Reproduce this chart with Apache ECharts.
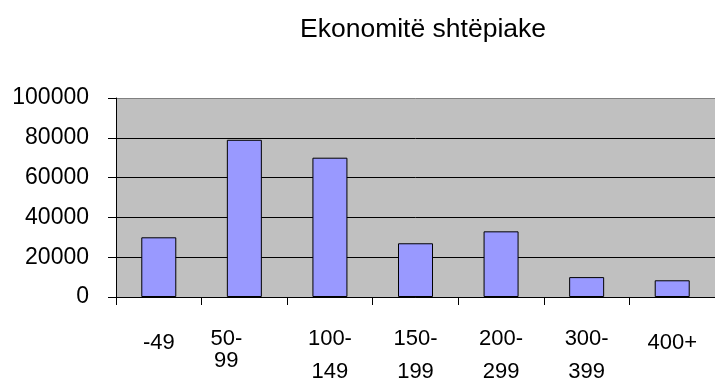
<!DOCTYPE html>
<html>
<head>
<meta charset="utf-8">
<script src="https://cdn.jsdelivr.net/npm/echarts@6/dist/echarts.min.js"></script>
<style>
  html, body { margin: 0; padding: 0; background: #ffffff; }
  #chart { width: 715px; height: 383px; }
</style>
</head>
<body>
<div id="chart"></div>
<script>
// Household counts by size class
const chartTitle = 'Ekonomitë shtëpiake';
const categories = ['-49', '50-\n99', '100-\n149', '150-\n199', '200-\n299', '300-\n399', '400+'];
const households = [30000, 79000, 70000, 27000, 33000, 10000, 8400];
const yTicks = [0, 20000, 40000, 60000, 80000, 100000];

const FONT = '"Liberation Sans", Arial, sans-serif';

// Build rich-text markup for each category label (two-line labels get a wider gap,
// the "50-99" label sits tighter and a little to the left).
function labelMarkup(value, idx) {
  const parts = String(value).split('\n');
  if (parts.length === 1) return '{solo|' + parts[0] + '}';
  if (idx === 1) return '{t1|' + parts[0] + '}\n{s1|' + parts[1] + '}';
  return '{t|' + parts[0] + '}\n{n|' + parts[1] + '}';
}

const chart = echarts.init(document.getElementById('chart'), null, { renderer: 'canvas' });

chart.setOption({
  animation: false,
  backgroundColor: '#ffffff',
  title: {
    text: chartTitle,
    left: 418,
    top: 11,
    textAlign: 'center',
    textStyle: { fontFamily: FONT, fontSize: 26.5, fontWeight: 'normal', color: '#000000' }
  },
  grid: {
    left: 116,
    top: 98,
    right: -5,
    bottom: 86,
    show: true,
    backgroundColor: '#c0c0c0',
    borderWidth: 0
  },
  xAxis: {
    type: 'category',
    data: categories,
    boundaryGap: true,
    axisLine: { show: true, lineStyle: { color: '#000000', width: 1 } },
    axisTick: { show: true, length: 8, alignWithLabel: false, lineStyle: { color: '#000000' } },
    axisLabel: {
      interval: 0,
      margin: 31,
      color: '#000000',
      fontFamily: FONT,
      fontSize: 22,
      formatter: labelMarkup,
      rich: {
        solo: { fontFamily: FONT, fontSize: 22, lineHeight: 30, color: '#000000' },
        t:    { fontFamily: FONT, fontSize: 22, lineHeight: 22, color: '#000000' },
        n:    { fontFamily: FONT, fontSize: 22, lineHeight: 44, color: '#000000' },
        t1:   { fontFamily: FONT, fontSize: 22, lineHeight: 22, color: '#000000', padding: [0, 36, 0, 0] },
        s1:   { fontFamily: FONT, fontSize: 22, lineHeight: 22, color: '#000000', padding: [0, 36, 0, 0] }
      }
    },
    splitLine: { show: false }
  },
  yAxis: {
    type: 'value',
    min: yTicks[0],
    max: yTicks[yTicks.length - 1],
    interval: yTicks[1] - yTicks[0],
    axisLine: { show: true, lineStyle: { color: '#000000', width: 1 } },
    axisTick: { show: true, length: 8, lineStyle: { color: '#000000' } },
    axisLabel: {
      margin: 27,
      color: '#000000',
      fontFamily: FONT,
      fontSize: 23,
      formatter: function (v) { return String(v); }
    },
    splitLine: {
      show: true,
      lineStyle: { color: ['#000000', '#000000', '#000000', '#000000', '#000000', '#808080'], width: 1 }
    }
  },
  series: [{
    type: 'bar',
    data: households,
    barWidth: 35,
    itemStyle: { color: '#9999ff', borderColor: '#000000', borderWidth: 1 },
    emphasis: { disabled: true }
  }]
});
</script>
</body>
</html>
